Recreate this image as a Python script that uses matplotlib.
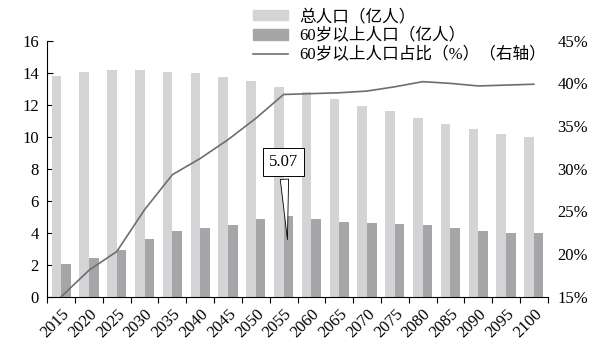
"""
中国人口预测：总人口、60岁以上人口及其占比
"""
import matplotlib

matplotlib.use("Agg")
import matplotlib.pyplot as plt
from matplotlib.patches import Patch
from matplotlib.lines import Line2D
import numpy as np

plt.rcParams["font.family"] = ["Liberation Serif", "Noto Sans CJK SC"]

years = ["2015", "2020", "2025", "2030", "2035", "2040", "2045", "2050", "2055",
         "2060", "2065", "2070", "2075", "2080", "2085", "2090", "2095", "2100"]
total_pop = [13.77, 14.06, 14.17, 14.17, 14.06, 14.0, 13.73, 13.48, 13.13,
             12.79, 12.38, 11.92, 11.6, 11.18, 10.81, 10.46, 10.19, 9.96]
elderly_pop = [2.06, 2.41, 2.93, 3.6, 4.1, 4.29, 4.48, 4.88, 5.07,
               4.88, 4.7, 4.62, 4.54, 4.46, 4.29, 4.1, 3.96, 3.96]
elderly_share = [15.0, 18.1, 20.3, 25.2, 29.3, 31.2, 33.4, 35.9, 38.7,
                 38.8, 38.9, 39.1, 39.6, 40.2, 40.0, 39.7, 39.8, 39.9]

label_total = "总人口（亿人）"
label_elderly = "60岁以上人口（亿人）"
label_share = "60岁以上人口占比（%）（右轴）"

c_light = "#d3d4d6"
c_dark = "#a6a6a8"
c_line = "#6e6e6e"

fig = plt.figure(figsize=(6.04, 3.51), dpi=100)
ax = fig.add_axes([0.0783, 0.1547, 0.8285, 0.7293])
x = np.arange(len(years))
w = 0.345
ax.bar(x - w / 2, total_pop, width=w, color=c_light, zorder=2)
ax.bar(x + w / 2, elderly_pop, width=w, color=c_dark, zorder=2)

ax.set_xlim(-0.5, len(years) - 0.5)
ax.set_ylim(0, 16)
ax.set_yticks(np.arange(0, 17, 2))
ax.tick_params(axis="y", direction="in", length=4, width=0.8, labelsize=12, pad=6)
ax.set_xticks(x)
ax.set_xticklabels(years, rotation=45, ha="right", va="top", rotation_mode="anchor", fontsize=12)
ax.set_xticks(np.arange(-0.5, len(years)), minor=True)
ax.tick_params(axis="x", which="major", length=0, pad=7)
ax.tick_params(axis="x", which="minor", direction="out", length=4, width=0.8)
for side in ["top", "right"]:
    ax.spines[side].set_visible(False)
ax.spines["left"].set_linewidth(0.8)
ax.spines["bottom"].set_linewidth(0.8)

# 右轴：占比
ax2 = ax.twinx()
ax2.plot(x, elderly_share, color=c_line, lw=1.2, zorder=3)
ax2.set_ylim(15, 45)
ax2.set_yticks(np.arange(15, 46, 5))
ax2.set_yticklabels([f"{v}%" for v in range(15, 46, 5)])
ax2.tick_params(axis="y", length=0, labelsize=12, pad=7)
for side in ["top", "right", "left", "bottom"]:
    ax2.spines[side].set_visible(False)

# 峰值标注
peak = int(np.argmax(elderly_pop))
ax.annotate(f"{elderly_pop[peak]:.2f}", xy=(peak + w / 2 - 0.03, 3.4), xytext=(peak, 8.4),
            ha="center", va="center", fontsize=12, zorder=5,
            bbox=dict(boxstyle="square,pad=0.35", fc="white", ec="black", lw=0.7),
            arrowprops=dict(arrowstyle="wedge,tail_width=0.5,shrink_factor=0.5",
                            fc="white", ec="black", lw=0.6))

handles = [Patch(color=c_light), Patch(color=c_dark), Line2D([], [], color=c_line, lw=1.2)]
fig.legend(handles, [label_total, label_elderly, label_share], loc="upper left",
           bbox_to_anchor=(253 / 604, 1 - 9 / 351), frameon=False, fontsize=12,
           handlelength=2.1, handleheight=0.6, handletextpad=0.7, labelspacing=0.2,
           borderpad=0, borderaxespad=0)

fig.savefig("out.png", dpi=100)
